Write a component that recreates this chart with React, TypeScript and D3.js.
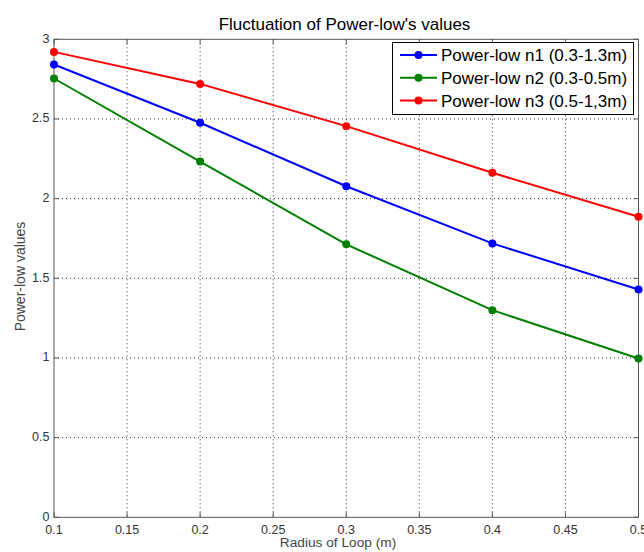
import React from "react";
import * as d3 from "d3";

const radius = [0.1, 0.2, 0.3, 0.4, 0.5];
const n1 = [2.842, 2.476, 2.078, 1.719, 1.43];
const n2 = [2.754, 2.233, 1.713, 1.3, 0.997];
const n3 = [2.921, 2.72, 2.455, 2.162, 1.886];
const seriesNames = ["Power-low n1 (0.3-1.3m)", "Power-low n2 (0.3-0.5m)", "Power-low n3 (0.5-1,3m)"];
const seriesColors = ["#0000ff", "#008000", "#ff0000"];
const xTicks = [0.1, 0.15, 0.2, 0.25, 0.3, 0.35, 0.4, 0.45, 0.5];
const yTicks = [0, 0.5, 1, 1.5, 2, 2.5, 3];

const W = 644;
const H = 552;
const left = 54;
const right = 638.5;
const top = 39.3;
const bottom = 517.3;

export default function App() {
  const x = d3.scaleLinear().domain([0.1, 0.5]).range([left, right]);
  const y = d3.scaleLinear().domain([0, 3]).range([bottom, top]);
  const line = d3
    .line<number>()
    .x((_, i) => x(radius[i]))
    .y((d) => y(d));
  const series = [n1, n2, n3];
  const fmt = (v: number) => String(v);
  const font = "'Liberation Sans', Arial, sans-serif";
  const axisColor = "#555";
  const tickLen = 5;

  return (
    <svg
      width={W}
      height={H}
      style={{ position: "absolute", left: 0, top: 0, background: "#fff" }}
      fontFamily={font}
    >
      <rect width={W} height={H} fill="#fff" />
      <text x={344.5} y={29.5} textAnchor="middle" fontSize={17} fill="#000">
        Fluctuation of Power-low's values
      </text>
      {/* grid */}
      {xTicks.slice(1, -1).map((t) => (
        <line key={"gx" + t} x1={x(t)} x2={x(t)} y1={top} y2={bottom} stroke="#333" strokeWidth={1} strokeDasharray="1,3" />
      ))}
      {yTicks.slice(1, -1).map((t) => (
        <line key={"gy" + t} x1={left} x2={right} y1={y(t)} y2={y(t)} stroke="#333" strokeWidth={1} strokeDasharray="1,3" />
      ))}
      {/* ticks on all four sides */}
      {xTicks.map((t) => (
        <g key={"tx" + t}>
          <line x1={x(t)} x2={x(t)} y1={bottom} y2={bottom - tickLen} stroke={axisColor} />
          <line x1={x(t)} x2={x(t)} y1={top} y2={top + tickLen} stroke={axisColor} />
          <text x={x(t)} y={533.5} textAnchor="middle" fontSize={12.5} fill="#333">
            {fmt(t)}
          </text>
        </g>
      ))}
      {yTicks.map((t) => (
        <g key={"ty" + t}>
          <line x1={left} x2={left + tickLen} y1={y(t)} y2={y(t)} stroke={axisColor} />
          <line x1={right} x2={right - tickLen} y1={y(t)} y2={y(t)} stroke={axisColor} />
          <text x={left - 4.5} y={y(t) + 3.5} textAnchor="end" fontSize={12.5} fill="#333">
            {fmt(t)}
          </text>
        </g>
      ))}
      <rect x={left} y={top} width={right - left} height={bottom - top} fill="none" stroke={axisColor} strokeWidth={1} />
      <text x={338} y={547} textAnchor="middle" fontSize={13.7} fill="#444">
        Radius of Loop (m)
      </text>
      <text
        transform={`translate(25, 276.5) rotate(-90)`}
        textAnchor="middle"
        fontSize={14}
        fill="#444"
      >
        Power-low values
      </text>
      {/* series */}
      {series.map((s, k) => (
        <g key={"s" + k}>
          <path d={line(s) || ""} fill="none" stroke={seriesColors[k]} strokeWidth={2} />
          {s.map((v, i) => (
            <circle key={i} cx={x(radius[i])} cy={y(v)} r={4} fill={seriesColors[k]} />
          ))}
        </g>
      ))}
      {/* legend */}
      <g>
        <rect x={392.5} y={42.5} width={241} height={72} fill="#fff" stroke="#000" strokeWidth={1} />
        {seriesNames.map((name, k) => {
          const cy = 55 + k * 22.8;
          return (
            <g key={"l" + k}>
              <line x1={400} x2={437} y1={cy} y2={cy} stroke={seriesColors[k]} strokeWidth={2} />
              <circle cx={418.5} cy={cy} r={4} fill={seriesColors[k]} />
              <text x={441} y={cy + 6} fontSize={17} fill="#000">
                {name}
              </text>
            </g>
          );
        })}
      </g>
    </svg>
  );
}
